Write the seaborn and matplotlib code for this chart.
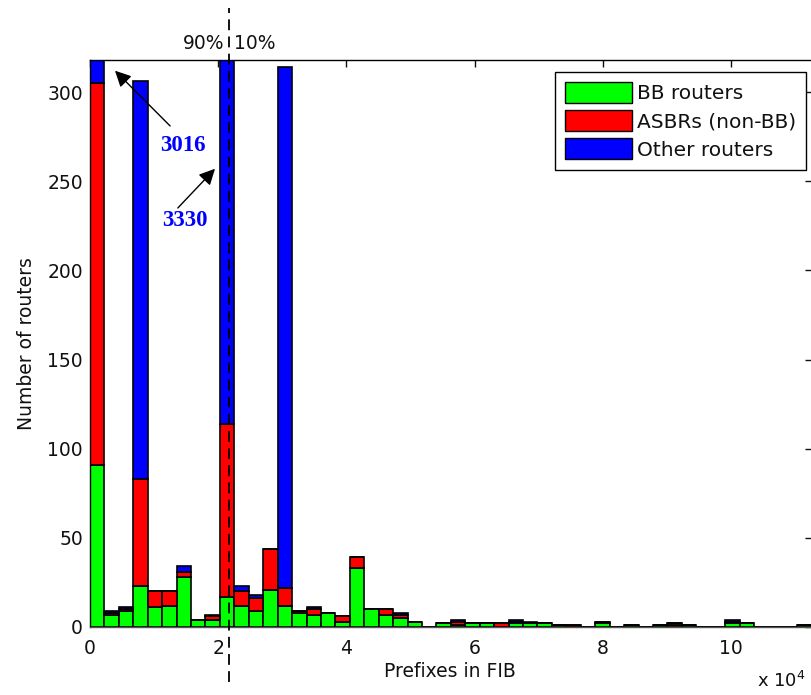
import numpy as np
import pandas as pd
import matplotlib
matplotlib.use("Agg")
import matplotlib.pyplot as plt
import matplotlib.patches as mpatches
import seaborn as sns

# ---- data (bin counts, x in units of 10^4 prefixes) ----
bin_width = 0.2252
n_bins = 50
bb_routers = [91, 7, 9, 23, 11, 12, 28, 4, 4, 17,
              12, 9, 21, 12, 8, 7, 8, 3, 33, 10,
              7, 5, 3, 0, 2, 1, 2, 2, 0, 2,
              2, 2, 1, 0, 0, 2, 0, 1, 0, 1,
              1, 1, 0, 0, 2, 2, 0, 0, 0, 1]
asbrs = [214, 1, 1, 60, 9, 8, 3, 0, 2, 97,
         8, 7, 23, 10, 1, 3, 0, 3, 6, 0,
         3, 2, 0, 0, 0, 2, 0, 0, 2, 1,
         0, 0, 0, 1, 0, 1, 0, 0, 0, 0,
         1, 0, 0, 0, 1, 0, 0, 0, 0, 0]
other = [2711, 1, 1, 223, 0, 0, 3, 0, 1, 3216,
         3, 2, 0, 292, 0, 1, 0, 0, 0, 0,
         0, 1, 0, 0, 0, 1, 0, 0, 0, 1,
         1, 0, 0, 0, 0, 0, 0, 0, 0, 0,
         0, 0, 0, 0, 1, 0, 0, 0, 0, 0]
series_names = ["BB routers", "ASBRs (non-BB)", "Other routers"]
series_colors = ["#00ff00", "#ff0000", "#0000ff"]
x_ticks = [0, 2, 4, 6, 8, 10]
y_ticks = [0, 50, 100, 150, 200, 250, 300]
split_x = 2.17
ann_3016 = (0.39, 312)
ann_3330 = (1.95, 257)

edges = [i * bin_width for i in range(n_bins + 1)]
centers = [(edges[i] + edges[i + 1]) / 2 for i in range(n_bins)]

rows = []
for name, vals in zip(series_names, [bb_routers, asbrs, other]):
    for c, v in zip(centers, vals):
        if v > 0:
            rows.append({"x": c, "count": v, "type": name})
df = pd.DataFrame(rows)

sns.set_style("white")
plt.rcParams["font.family"] = ["DejaVu Sans"]
plt.rcParams["text.color"] = "#111111"
plt.rcParams["axes.labelcolor"] = "#111111"

W, H = 811, 695
fig = plt.figure(figsize=(W / 100, H / 100), dpi=100)
ax_l, ax_r, ax_t, ax_b = 90, 812, 60, 627
ax = fig.add_axes([ax_l / W, 1 - ax_b / H, (ax_r - ax_l) / W, (ax_b - ax_t) / H])

sns.histplot(data=df, x="x", weights="count", hue="type",
             hue_order=series_names[::-1], multiple="stack", bins=edges,
             palette=dict(zip(series_names, series_colors)),
             edgecolor="black", linewidth=1.2, alpha=1, legend=False, ax=ax)

ax.set_xlim(0, (ax_r - ax_l) / 64.1)
ax.set_ylim(0, 318)
ax.set_xticks(x_ticks)
ax.set_xticklabels([str(t) for t in x_ticks])
ax.set_yticks(y_ticks)
ax.tick_params(direction="in", top=True, right=True, length=5, width=1,
               labelsize=13.5, colors="#111111")
ax.tick_params(axis="x", pad=9)
ax.tick_params(axis="y", pad=5)
for s in ax.spines.values():
    s.set_visible(True)
    s.set_color("black")
    s.set_linewidth(1)
ax.spines["bottom"].set_color("#555555")

ax.set_xlabel("Prefixes in FIB", fontsize=13.5)
ax.set_ylabel("Number of routers", fontsize=13.5)
ax.xaxis.set_label_coords((450 - ax_l) / (ax_r - ax_l), (ax_b - 662) / (ax_b - ax_t))
ax.yaxis.set_label_coords((36 - ax_l) / (ax_r - ax_l), 0.5)

# dashed split line extending beyond the axes
ax.axvline(split_x, ymin=(ax_b - 682) / (ax_b - ax_t), ymax=(ax_b - 8) / (ax_b - ax_t),
           color="black", lw=1.3, ls=(0, (6, 3.5)), clip_on=False, zorder=5)
ax.text(split_x - 0.07, (ax_b - 43) / 1.7833, "90%", ha="right", va="center",
        fontsize=13.5, clip_on=False)
ax.text(split_x + 0.07, (ax_b - 43) / 1.7833, "10%", ha="left", va="center",
        fontsize=13.5, clip_on=False)

# annotations
lab_font = dict(family="Liberation Serif", weight="bold", size=16.5, color="#0000ff")
ax.text(1.45, 270, "3016", ha="center", va="center", **lab_font)
ax.annotate("", xy=ann_3016, xytext=(1.25, 281),
            arrowprops=dict(arrowstyle="-|>", color="black", lw=1, mutation_scale=24,
                            shrinkA=0, shrinkB=0))
ax.text(1.48, 228, "3330", ha="center", va="center", **lab_font)
ax.annotate("", xy=ann_3330, xytext=(1.37, 235),
            arrowprops=dict(arrowstyle="-|>", color="black", lw=1, mutation_scale=24,
                            shrinkA=0, shrinkB=0))

# legend
handles = [mpatches.Patch(facecolor=c, edgecolor="black", lw=1, label=n)
           for n, c in zip(series_names, series_colors)]
leg = ax.legend(handles=handles, loc="upper right",
                bbox_to_anchor=((806 - ax_l) / (ax_r - ax_l), (ax_b - 72) / (ax_b - ax_t)),
                borderaxespad=0, fontsize=14.5, handlelength=3.3, handleheight=1.2,
                handletextpad=0.25, labelspacing=0.35, borderpad=0.5, fancybox=False,
                framealpha=1, edgecolor="black")
leg.get_frame().set_linewidth(1)

fig.text(757 / W, 1 - 681 / H, "x 10$^4$", ha="left", va="center", fontsize=13)

fig.savefig("out.png", dpi=100, facecolor="white")
